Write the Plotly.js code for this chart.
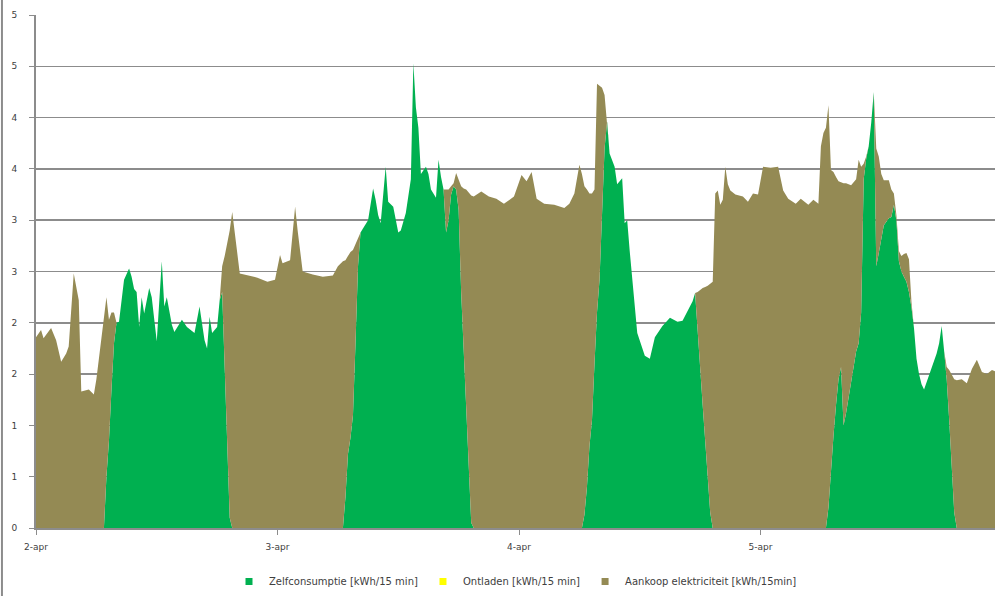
<!DOCTYPE html>
<html>
<head>
<meta charset="utf-8">
<script src="https://cdn.plot.ly/plotly-3.0.1.min.js"></script>
<style>html,body{margin:0;padding:0;background:#fff;}#chart{width:995px;height:596px;}</style>
</head>
<body>
<div id="chart"></div>
<script>
// Hours since 2-apr 00:00 (15-minute readings)
const hours = [
  0,0.5,0.75,1.5,2,2.5,3,3.25,3.75,4.25,4.5,5.25,5.75,6,6.5,6.75,
  7,7.25,7.5,7.75,8,
  8.25,8.75,9.25,9.5,9.75,10,10.25,10.5,10.75,11.25,11.5,12,12.5,12.75,13,13.5,13.75,14.5,15,15.75,16.25,16.75,17,17.25,17.5,18,18.25,
  18.5,18.75,19,19.25,
  19.5,19.75,20,20.25,21,22,23,23.75,24.25,24.5,25.25,25.75,26,26.5,27.5,28.5,29.5,30,30.5,
  30.75,31,31.25,31.5,31.75,32,32.25,
  32.5,33,33.5,33.75,34,34.25,34.75,35,35.5,36,36.25,36.75,37.25,37.5,37.75,38,38.25,38.5,38.75,39,39.25,39.75,40,40.25,40.5,
  40.75,41,41.25,41.5,41.75,42,42.25,42.5,42.75,43,43.25,
  43.5,44.25,45,45.75,46.5,47.5,48.25,48.75,49.25,49.75,50.5,51.5,52.5,53,53.5,54,54.25,
  54.5,54.75,55,55.25,55.5,55.75,56,56.25,56.5,56.75,
  57,57.5,57.75,58,58.25,58.5,58.75,59,59.25,59.75,60.5,61,61.5,62.25,63,63.75,64.25,64.75,65.25,65.5,
  65.75,66,66.25,66.5,66.75,67,
  67.25,67.5,67.75,68,68.25,68.5,68.75,69,69.5,70.25,70.75,71.25,71.75,72.25,73,73.75,74.25,74.75,75.5,76,76.75,77.25,77.75,78,78.25,78.5,
  78.75,79,79.25,79.5,79.75,80,80.25,80.5,81,81.5,81.75,82,82.25,82.5,82.75,83,83.25,83.5,83.75,84,84.25,84.75,85,85.25,85.5,85.75,86,86.25,86.5,86.75,87,
  87.25,87.5,87.75,88,88.25,88.5,88.75,89,89.25,89.5,89.75,90,90.25,
  90.5,90.75,91,91.25,
  91.5,92,92.5,93,93.5,94,94.5,95,95.5
];

// Zelfconsumptie [kWh/15 min]
const zelfconsumptie = [
  0,0,0,0,0,0,0,0,0,0,0,0,0,0,0,0,
  0.5,0.85,1.35,1.8,2.0,
  2.01,2.42,2.53,2.45,2.33,2.30,1.96,2.25,2.09,2.34,2.25,1.82,2.60,2.16,2.25,1.98,1.91,2.03,1.96,1.90,2.16,1.83,1.75,2.06,1.90,1.96,2.22,
  2.30,1.60,0.85,0.10,
  0,0,0,0,0,0,0,0,0,0,0,0,0,0,0,0,0,0,0,
  0.30,0.72,0.88,1.10,1.80,2.55,2.88,
  2.92,3.00,3.31,3.20,3.05,2.97,3.52,3.18,3.13,2.88,2.90,3.07,3.40,4.53,4.10,3.90,3.45,3.48,3.52,3.45,3.30,3.22,3.59,3.42,3.30,
  2.88,3.00,3.25,3.33,3.30,3.10,2.30,1.73,1.10,0.50,0.05,
  0,0,0,0,0,0,0,0,0,0,0,0,0,0,0,0,0,
  0.13,0.40,0.80,1.05,1.60,2.10,2.42,3.10,3.70,3.96,
  3.65,3.52,3.35,3.38,3.41,2.97,3.00,2.70,2.45,1.90,1.68,1.65,1.86,1.97,2.05,2.01,2.02,2.12,2.21,2.29,
  1.90,1.55,1.20,0.85,0.50,0.15,
  0,0,0,0,0,0,0,0,0,0,0,0,0,0,0,0,0,0,0,0,0,0,0,0,0,0,
  0.20,0.60,0.90,1.20,1.45,1.57,1.00,1.12,1.42,1.72,1.80,2.10,3.40,3.60,3.72,3.95,4.25,2.55,2.68,2.80,2.95,3.02,3.03,3.15,3.00,2.60,2.50,2.45,2.40,2.30,2.15,
  1.95,1.65,1.50,1.40,1.35,1.42,1.50,1.58,1.65,1.70,1.80,1.97,1.72,
  1.45,1.05,0.60,0.15,
  0,0,0,0,0,0,0,0,0
];

// Aankoop elektriciteit [kWh/15min]
const aankoop = [
  1.86,1.93,1.85,1.95,1.83,1.62,1.70,1.77,2.48,2.22,1.33,1.35,1.30,1.45,1.85,2.05,
  1.75,1.18,0.75,0.30,0,
  0,0,0,0,0,0,0,0,0,0,0,0,0,0,0,0,0,0,0,0,0,0,0,0,0,0,0,
  0.25,1.05,1.93,2.80,
  3.08,2.85,2.68,2.48,2.46,2.44,2.40,2.42,2.66,2.58,2.61,3.13,2.90,2.50,2.47,2.45,2.46,2.55,2.60,
  2.31,1.93,1.81,1.61,0.97,0.27,0,
  0,0,0,0,0,0,0,0,0,0,0,0,0,0,0,0,0,0,0,0,0,0,0,0,0,
  0.42,0.30,0.08,0.03,0.16,0.30,1.03,1.58,2.20,2.77,3.19,
  3.23,3.28,3.23,3.21,3.16,3.23,3.44,3.38,3.47,3.21,3.16,3.15,3.12,3.16,3.26,3.54,3.45,
  3.20,2.90,2.46,2.21,1.70,2.23,1.89,1.19,0.52,0,
  0,0,0,0,0,0,0,0,0,0,0,0,0,0,0,0,0,0,0,0,
  0.40,0.77,1.14,1.50,1.86,2.23,
  2.40,3.26,3.29,3.15,3.20,3.52,3.35,3.29,3.25,3.23,3.18,3.26,3.25,3.52,3.51,3.52,3.29,3.21,3.16,3.21,3.15,3.20,3.16,3.72,3.85,3.90,
  3.92,2.89,2.57,2.22,1.93,1.80,2.36,2.24,1.92,1.68,1.79,1.42,0.15,0.02,0,0,0,1.15,0.94,0.65,0.44,0.37,0.27,0.11,0.05,0.10,0.15,0.22,0.28,0.32,0.05,
  0,0,0,0,0,0,0,0,0,0,0,0,0,
  0.12,0.49,0.90,1.30,
  1.44,1.45,1.41,1.55,1.64,1.52,1.50,1.54,1.52
];

const seriesNames = ['Zelfconsumptie [kWh/15 min]', 'Ontladen [kWh/15 min]', 'Aankoop elektriciteit [kWh/15min]'];
const dayTicks = ['2016-04-02', '2016-04-03', '2016-04-04', '2016-04-05'];
const dayLabels = ['2-apr', '3-apr', '4-apr', '5-apr'];
const yTickVals = [0, 0.5, 1, 1.5, 2, 2.5, 3, 3.5, 4, 4.5, 5];
const yTickText = ['0', '1', '1', '2', '2', '3', '3', '4', '4', '5', '5'];

const colors = {zelf: '#00B050', ontladen: '#FFFF00', aankoop: '#948A54'};

function toDate(h) {
  const t = new Date(Date.UTC(2016, 3, 2) + h * 3600000);
  const p = n => String(n).padStart(2, '0');
  return t.getUTCFullYear() + '-' + p(t.getUTCMonth() + 1) + '-' + p(t.getUTCDate()) + ' ' + p(t.getUTCHours()) + ':' + p(t.getUTCMinutes());
}
const xDates = hours.map(toDate);

const traces = [
  {x: xDates, y: zelfconsumptie, type: 'scatter', mode: 'lines', stackgroup: 'one',
   line: {width: 0, color: colors.zelf}, fillcolor: colors.zelf, showlegend: false, hoverinfo: 'skip'},
  {x: xDates, y: aankoop, type: 'scatter', mode: 'lines', stackgroup: 'one',
   line: {width: 0, color: colors.aankoop}, fillcolor: colors.aankoop, showlegend: false, hoverinfo: 'skip'},
  {x: [null], y: [null], type: 'scatter', mode: 'markers', name: seriesNames[0],
   marker: {symbol: 'square', size: 7, color: colors.zelf}},
  {x: [null], y: [null], type: 'scatter', mode: 'markers', name: seriesNames[1],
   marker: {symbol: 'square', size: 7, color: colors.ontladen}},
  {x: [null], y: [null], type: 'scatter', mode: 'markers', name: seriesNames[2],
   marker: {symbol: 'square', size: 7, color: colors.aankoop}}
];

const tickFont = {family: 'DejaVu Sans, sans-serif', size: 9, color: '#404040'};

const layout = {
  width: 995, height: 596,
  margin: {l: 36, r: 0, t: 15, b: 68, pad: 0},
  paper_bgcolor: '#ffffff', plot_bgcolor: '#ffffff',
  showlegend: true,
  xaxis: {
    type: 'date', range: [toDate(0), toDate(95.3)],
    tickvals: dayTicks, ticktext: dayLabels, tickfont: tickFont,
    ticks: 'outside', ticklen: 5, tickwidth: 1, tickcolor: '#8c8c8c',
    showgrid: false, zeroline: false,
    showline: true, linecolor: '#8c8c8c', linewidth: 2,
    ticklabelstandoff: 4
  },
  yaxis: {
    range: [0, 5], tickvals: yTickVals, ticktext: yTickText, tickfont: tickFont,
    ticks: 'outside', ticklen: 5, tickwidth: 1, tickcolor: '#8c8c8c',
    showgrid: true, gridcolor: '#8c8c8c', gridwidth: 1.5,
    zeroline: false, showline: true, linecolor: '#8c8c8c', linewidth: 2,
    ticklabelstandoff: 10
  },
  legend: {
    orientation: 'h', x: 0.5, xanchor: 'center', y: -0.105, yanchor: 'middle',
    traceorder: 'normal',
    font: {family: 'DejaVu Sans, sans-serif', size: 10, color: '#404040'},
    itemwidth: 30, bgcolor: 'rgba(0,0,0,0)'
  },
  shapes: [
    {type: 'line', xref: 'paper', yref: 'paper', x0: -0.0355, x1: -0.0355, y0: -0.14, y1: 1.04,
     line: {color: '#8c8c8c', width: 2}}
  ]
};

Plotly.newPlot('chart', traces, layout, {displayModeBar: false, staticPlot: true});
</script>
</body>
</html>
